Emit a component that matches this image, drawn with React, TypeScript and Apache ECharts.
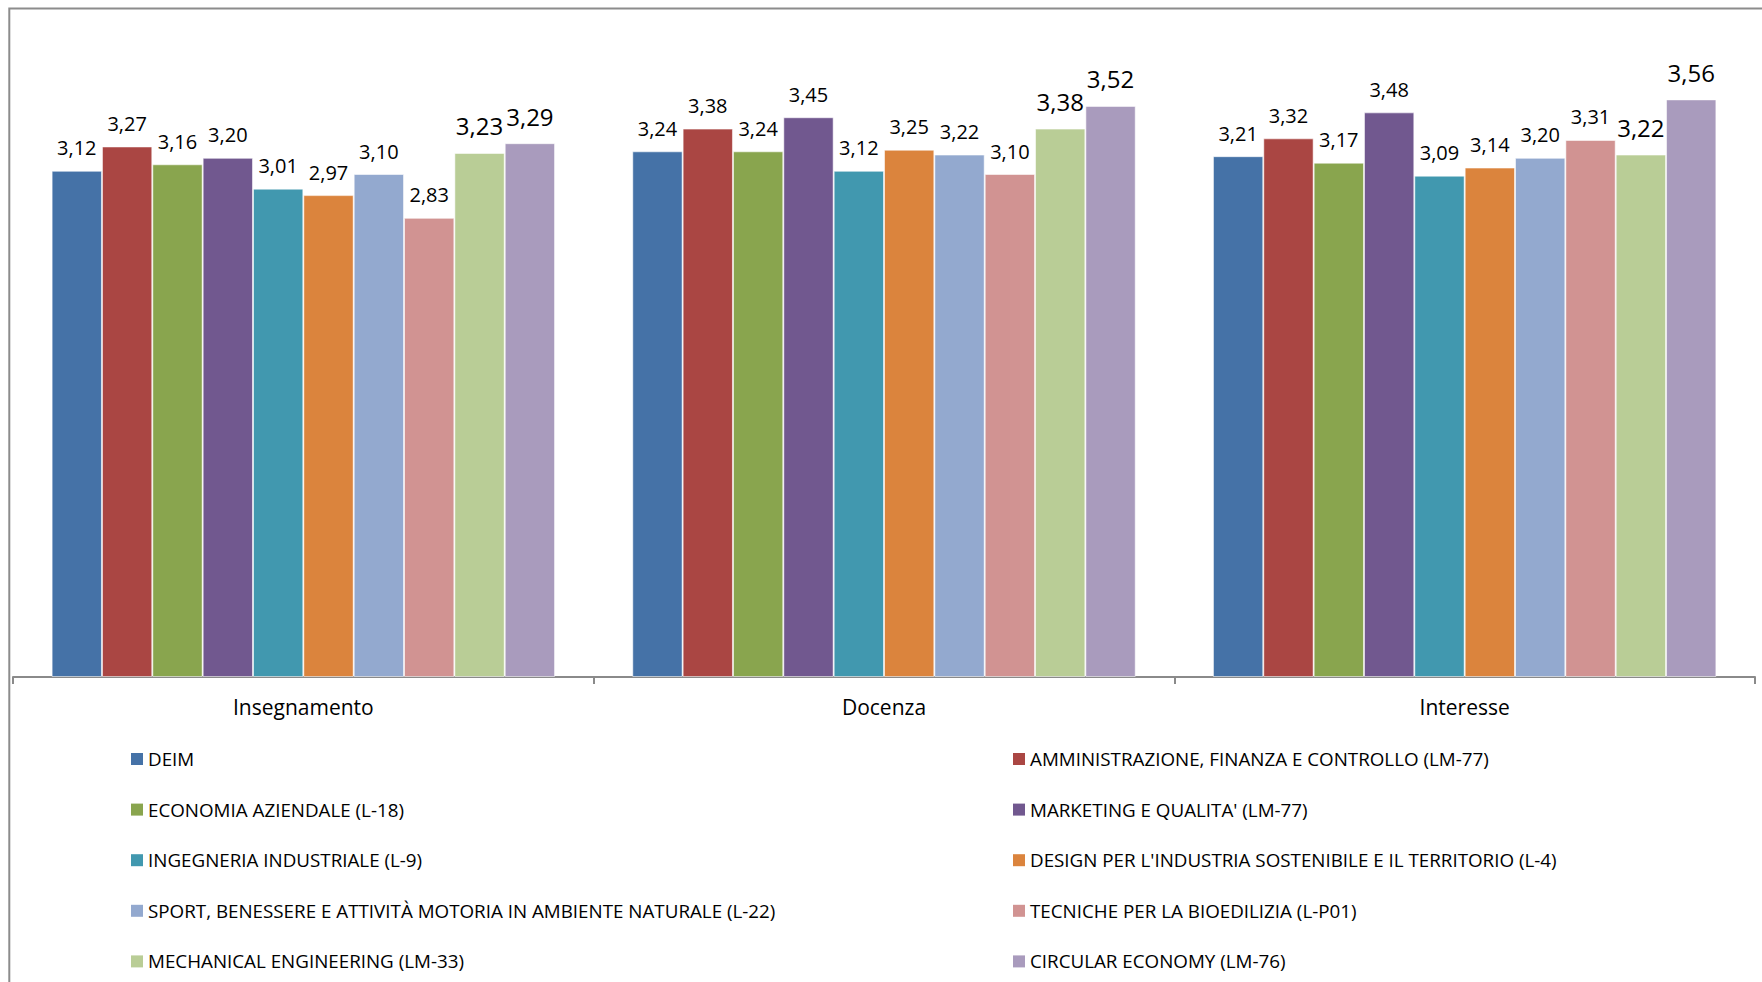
import React, { useEffect, useRef } from "react";
import * as echarts from "echarts";

const categories = ["Insegnamento", "Docenza", "Interesse"];

const seriesNames = [
  "DEIM",
  "AMMINISTRAZIONE, FINANZA E CONTROLLO (LM-77)",
  "ECONOMIA AZIENDALE (L-18)",
  "MARKETING E QUALITA' (LM-77)",
  "INGEGNERIA INDUSTRIALE (L-9)",
  "DESIGN PER L'INDUSTRIA SOSTENIBILE E IL TERRITORIO (L-4)",
  "SPORT, BENESSERE E ATTIVITÀ MOTORIA IN AMBIENTE NATURALE (L-22)",
  "TECNICHE PER LA BIOEDILIZIA (L-P01)",
  "MECHANICAL ENGINEERING (LM-33)",
  "CIRCULAR ECONOMY (LM-76)",
];

const seriesColors = [
  "#4572A7",
  "#AA4643",
  "#89A54E",
  "#71588F",
  "#4198AF",
  "#DB843D",
  "#93A9CF",
  "#D19392",
  "#B9CD96",
  "#A99BBD",
];

const deim = [3.12, 3.24, 3.21];
const amministrazione = [3.27, 3.38, 3.32];
const economia = [3.16, 3.24, 3.17];
const marketing = [3.2, 3.45, 3.48];
const ingegneria = [3.01, 3.12, 3.09];
const design = [2.97, 3.25, 3.14];
const sport = [3.1, 3.22, 3.2];
const tecniche = [2.83, 3.1, 3.31];
const mechanical = [3.23, 3.38, 3.22];
const circular = [3.29, 3.52, 3.56];

const seriesValues = [
  deim,
  amministrazione,
  economia,
  marketing,
  ingegneria,
  design,
  sport,
  tecniche,
  mechanical,
  circular,
];

const FONT = "'Open Sans', sans-serif";

export default function App() {
  const ref = useRef<HTMLDivElement>(null);

  useEffect(() => {
    if (!ref.current) return;
    const chart = echarts.init(ref.current, null, { renderer: "svg" });

    const series = seriesNames.map((name, i) => {
      const big = i >= 8;
      return {
        name,
        type: "bar",
        data: seriesValues[i],
        barGap: "0%",
        barCategoryGap: "13.3%",
        itemStyle: {
          color: seriesColors[i],
          borderColor: "rgba(255,255,255,0.55)",
          borderWidth: 1,
        },
        label: {
          show: true,
          position: "top",
          distance: big ? 15 : 13,
          color: "#000",
          fontFamily: FONT,
          fontSize: big ? 24 : 20,
          formatter: (p: any) => Number(p.value).toFixed(2).replace(".", ","),
        },
      };
    });

    const legendCommon = {
      orient: "vertical",
      padding: 0,
      itemWidth: 12,
      itemHeight: 12,
      itemGap: 30.6,
      icon: "rect",
      itemStyle: { borderWidth: 0 },
      textStyle: {
        color: "#000",
        fontFamily: FONT,
        fontSize: 18.8,
        lineHeight: 20,
      },
      selectedMode: false,
    };

    chart.setOption({
      animation: false,
      backgroundColor: "#ffffff",
      grid: { left: 13, right: 7, top: 28, bottom: 305, containLabel: false },
      xAxis: {
        type: "category",
        data: categories,
        axisLine: { show: true, lineStyle: { color: "#8a8a8a", width: 2 } },
        axisTick: { show: true, length: 7, lineStyle: { color: "#8a8a8a", width: 2 } },
        axisLabel: {
          color: "#000",
          fontFamily: FONT,
          fontSize: 21,
          margin: 19,
        },
      },
      yAxis: {
        type: "value",
        min: 0,
        max: 4,
        show: false,
        splitLine: { show: false },
      },
      legend: [
        {
          ...legendCommon,
          left: 131,
          top: 749,
          data: seriesNames.filter((_, i) => i % 2 === 0),
        },
        {
          ...legendCommon,
          left: 1013,
          top: 749,
          data: seriesNames.filter((_, i) => i % 2 === 1),
        },
      ],
      graphic: [
        {
          type: "rect",
          shape: { x: 9.3, y: 8.5, width: 2000, height: 2000 },
          style: { fill: "none", stroke: "#8c8c8c", lineWidth: 2 },
          silent: true,
        },
      ],
      series,
    });

    return () => chart.dispose();
  }, []);

  return (
    <div
      ref={ref}
      style={{ position: "absolute", left: 0, top: 0, width: 1762, height: 982 }}
    />
  );
}
